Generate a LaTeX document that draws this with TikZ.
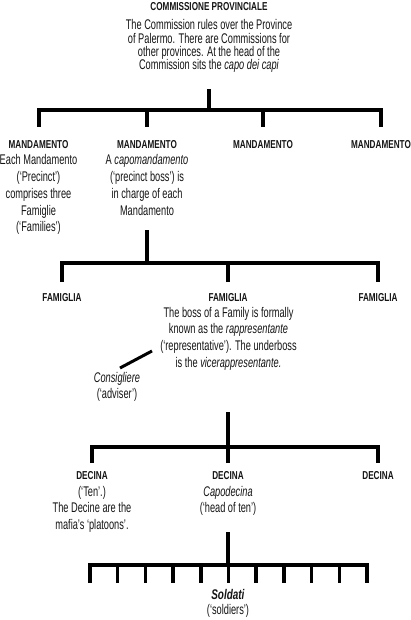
\documentclass[tikz,border=0pt]{standalone}
\usepackage{fontspec}
\usetikzlibrary{calc}
\setmainfont{Liberation Sans}[FakeStretch=0.66, BoldFeatures={FakeStretch=0.71}, BoldItalicFeatures={FakeStretch=0.71}]
\newcommand\mlines[1]{\vtop{\lineskiplimit=-20pt\halign{\hfil##\hfil\cr#1\crcr}}}
\begin{document}
\begin{tikzpicture}[x=1pt,y=-1pt,
  hd/.style={anchor=base, inner sep=0pt, text=black!92, font=\fontsize{11.5}{13}\selectfont\bfseries},
  bd/.style={anchor=base, inner sep=0pt, text=black!92, font=\fontsize{14}{16.7}\selectfont},
  bdtight/.style={anchor=base, inner sep=0pt, text=black!92, font=\fontsize{14}{13.3}\selectfont},
  bar/.style={line width=4pt, line join=miter, line cap=butt},
  thinbar/.style={line width=3.5pt, line join=miter, line cap=butt},
  aside/.style={line width=3pt, line cap=butt}]
\useasboundingbox (0,0) rectangle (410,620);

% ---- Commissione
\node[hd] (cp) at (209,11) {COMMISSIONE PROVINCIALE};
\node[bdtight] (cpt) at (209,30) {\mlines{The Commission rules over the Province\cr
of Palermo. There are Commissions for\cr
other provinces. At the head of the\cr
Commission sits the \textit{capo dei capi}}};

% ---- Mandamenti
\node[hd] (m1) at (38.5,148.5) {MANDAMENTO};
\node[hd] (m2) at (147,148.5) {MANDAMENTO};
\node[hd] (m3) at (263,148.5) {MANDAMENTO};
\node[hd] (m4) at (381,148.5) {MANDAMENTO};
\node[bd] (m1t) at (38.5,165) {\mlines{Each Mandamento\cr (‘Precinct’)\cr comprises three\cr Famiglie\cr (‘Families’)}};
\node[bd] (m2t) at (147,165) {\mlines{A \textit{capomandamento}\cr (‘precinct boss’) is\cr in charge of each\cr Mandamento}};

\coordinate (t1) at (209,89);
\coordinate (j1) at (209,110);
\coordinate (e1) at (0,127);
\draw[bar] (t1) -- (j1);
\draw[bar] (m1 |- e1) |- (j1) -| (m4 |- e1);
\draw[bar] (m2 |- e1) -- (m2 |- j1);
\draw[bar] (m3 |- e1) -- (m3 |- j1);

% ---- Famiglie
\node[hd] (f1) at (62,301) {FAMIGLIA};
\node[hd] (f2) at (228,301) {FAMIGLIA};
\node[hd] (f3) at (378,301) {FAMIGLIA};
\node[bd] (f2t) at (228.5,317) {\mlines{The boss of a Family is formally\cr
known as the \textit{rappresentante}\cr
(‘representative’). The underboss\cr
is the \textit{vicerappresentante.}}};

\coordinate (t2) at (147,230);
\coordinate (j2) at (147,263);
\coordinate (e2) at (0,282);
\draw[bar] (t2) -- (j2);
\draw[bar] (f1 |- e2) |- (j2) -| (f3 |- e2);
\draw[bar] (f2 |- e2) -- (f2 |- j2);

% ---- Consigliere
\node[bd] (cons) at (117,382) {\mlines{\textit{Consigliere}\cr (‘adviser’)}};
\coordinate (ca) at (120,368);
\coordinate (cb) at (152,351);
\draw[aside] (ca) -- (cb);

% ---- Decine
\node[hd] (d1) at (92,479) {DECINA};
\node[hd] (d2) at (228,479) {DECINA};
\node[hd] (d3) at (378,479) {DECINA};
\node[bd] (d1t) at (92,496) {\mlines{(‘Ten’.)\cr The Decine are the\cr mafia’s ‘platoons’.}};
\node[bd] (d2t) at (228,496) {\mlines{\textit{Capodecina}\cr (‘head of ten’)}};

\coordinate (t3) at (228,412);
\coordinate (j3) at (228,447);
\coordinate (e3) at (0,463);
\draw[thinbar] (t3) -- (j3);
\draw[thinbar] (d1 |- e3) |- (j3) -| (d3 |- e3);
\draw[thinbar] (d2 |- e3) -- (d2 |- j3);

% ---- Soldati
\node[inner sep=0pt, anchor=base, text=black!92, font=\fontsize{14}{15.5}\selectfont] (sol) at (228,599) {\mlines{\textbf{\textit{Soldati}}\cr (‘soldiers’)}};
\coordinate (t4) at (228,532);
\coordinate (j4) at (228,565);
\coordinate (sl) at (90,565);
\coordinate (sr) at (367,565);
\draw[thinbar] (t4) -- (j4);
\draw[thinbar] (sl |- 0,583) |- (j4) -| (sr |- 0,583);
\foreach \i in {1,...,9} {
  \draw[thinbar] ($(sl)!\i/10!(sr)$) -- ++(0,18);
}
\end{tikzpicture}
\end{document}
